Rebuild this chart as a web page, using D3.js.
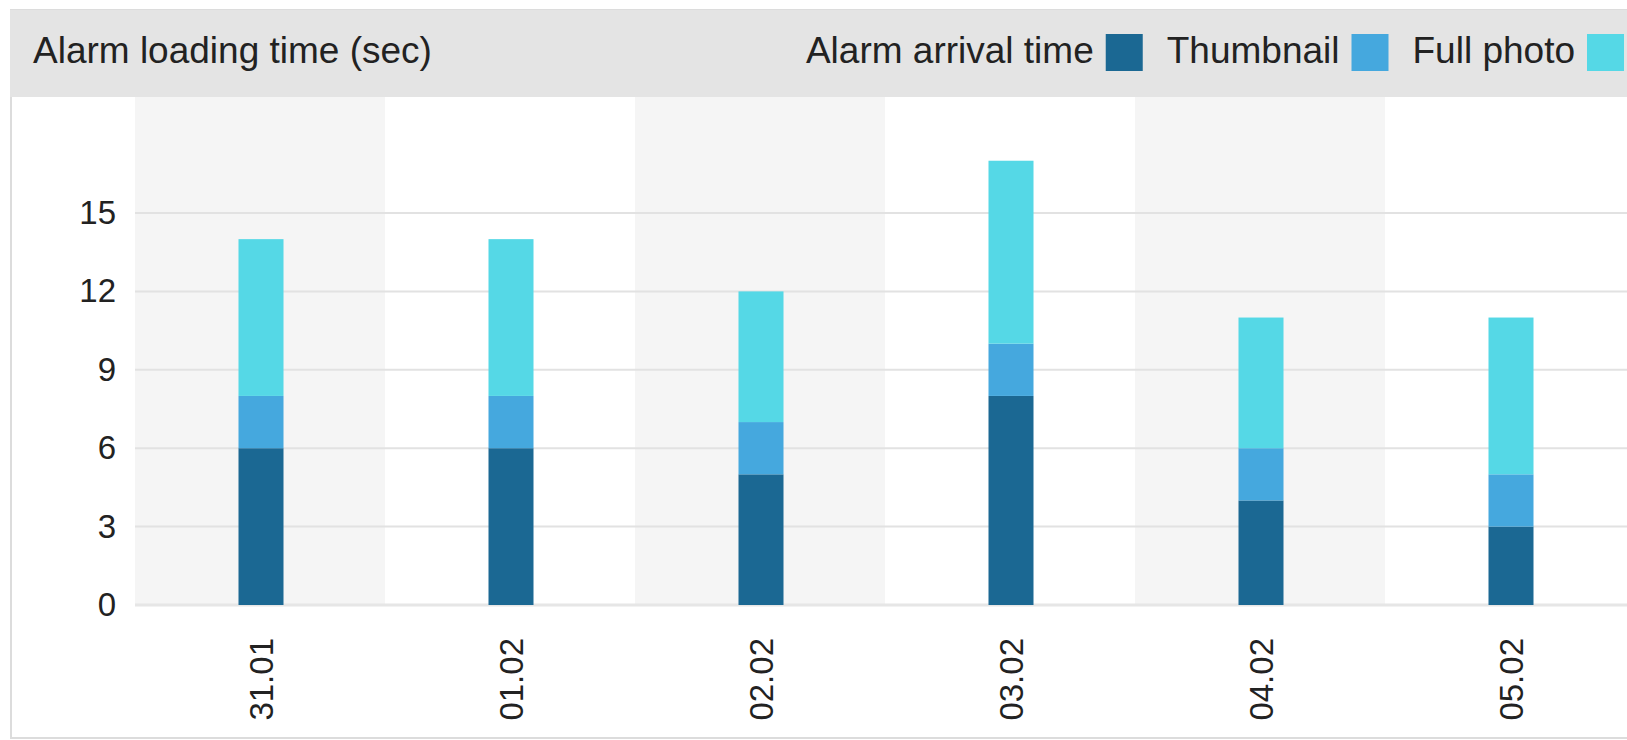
<!DOCTYPE html>
<html>
<head>
<meta charset="UTF-8">
<script src="https://d3js.org/d3.v7.min.js"></script>
<title>Alarm loading time</title>
<style>
  body { margin: 0; background: #fff; }
  text { font-family: "Liberation Sans", Arial, Helvetica, sans-serif; fill: #222; }
</style>
</head>
<body>
<div id="chart"></div>
<script>
// data
var dates = ["31.01", "01.02", "02.02", "03.02", "04.02", "05.02"];
var arrival = [6, 6, 5, 8, 4, 3];
var thumbnail = [2, 2, 2, 2, 2, 2];
var fullPhoto = [6, 6, 5, 7, 5, 6];
var yTicks = [0, 3, 6, 9, 12, 15];
var seriesNames = ["Alarm arrival time", "Thumbnail", "Full photo"];
var colors = ["#1b6893", "#45a8de", "#55d8e6"];

var width = 1627, height = 740;
var headerTop = 10, headerBottom = 97;
var plotLeft = 135, baseY = 605;
var bandW = 250, barW = 45;

var svg = d3.select("#chart").append("svg")
  .attr("width", width)
  .attr("height", height);

// panel + header
svg.append("rect")
  .attr("x", 11).attr("y", headerTop)
  .attr("width", width).attr("height", height - headerTop - 2)
  .attr("fill", "#fff").attr("stroke", "#dcdcdc").attr("stroke-width", 2);
svg.append("rect")
  .attr("x", 10).attr("y", headerTop)
  .attr("width", width).attr("height", headerBottom - headerTop)
  .attr("fill", "#e4e4e4");

svg.append("text")
  .attr("x", 33).attr("y", 63)
  .attr("font-size", 37)
  .text("Alarm loading time (sec)");

// scales
var x = d3.scaleBand()
  .domain(dates)
  .range([plotLeft, plotLeft + bandW * dates.length])
  .padding(0);

var y = d3.scaleLinear()
  .domain([0, 15])
  .range([baseY, 213]);

// stripes
svg.append("g").selectAll("rect")
  .data(dates)
  .enter().append("rect")
  .attr("x", function(d) { return x(d); })
  .attr("y", headerBottom)
  .attr("width", x.bandwidth())
  .attr("height", baseY - headerBottom)
  .attr("fill", function(d, i) { return i % 2 === 0 ? "#f5f5f5" : "#fff"; });

// grid
svg.append("g").selectAll("line")
  .data(yTicks)
  .enter().append("line")
  .attr("x1", plotLeft).attr("x2", width)
  .attr("y1", function(d) { return y(d); })
  .attr("y2", function(d) { return y(d); })
  .attr("stroke", function(d) { return d === 0 ? "#e6e6e6" : "#e2e2e2"; })
  .attr("stroke-width", function(d) { return d === 0 ? 3 : 2; });

// y axis labels
var yAxis = d3.axisLeft(y).tickValues(yTicks).tickSize(0).tickPadding(0);
svg.append("g")
  .attr("transform", "translate(116,0)")
  .call(yAxis)
  .call(function(g) { g.select(".domain").remove(); })
  .selectAll("text")
  .attr("font-size", 33)
  .attr("fill", "#222")
  .attr("font-family", "Liberation Sans, Arial, sans-serif");

// stacked bars
var rows = dates.map(function(d, i) {
  return { date: d, a: arrival[i], t: thumbnail[i], f: fullPhoto[i] };
});
var stack = d3.stack().keys(["a", "t", "f"]);
var layers = stack(rows);

svg.append("g").selectAll("g")
  .data(layers)
  .enter().append("g")
  .attr("fill", function(d, i) { return colors[i]; })
  .selectAll("rect")
  .data(function(d) { return d; })
  .enter().append("rect")
  .attr("x", function(d) { return x(d.data.date) + (x.bandwidth() - barW) / 2 + 1; })
  .attr("y", function(d) { return y(d[1]); })
  .attr("width", barW)
  .attr("height", function(d) { return y(d[0]) - y(d[1]); });

// x labels, rotated
svg.append("g").selectAll("text")
  .data(dates)
  .enter().append("text")
  .attr("transform", function(d) {
    return "translate(" + (x(d) + x.bandwidth() / 2 + 1) + ",638) rotate(-90)";
  })
  .attr("text-anchor", "end")
  .attr("dy", "0.35em")
  .attr("font-size", 33)
  .text(function(d) { return d; });

// legend, laid out from the right
var legend = svg.append("g");
var right = 1624;
for (var i = seriesNames.length - 1; i >= 0; i--) {
  legend.append("rect")
    .attr("x", right - 37).attr("y", 34)
    .attr("width", 37).attr("height", 37)
    .attr("fill", colors[i]);
  var t = legend.append("text")
    .attr("x", right - 37 - 12).attr("y", 63)
    .attr("text-anchor", "end")
    .attr("font-size", 37)
    .text(seriesNames[i]);
  var w = t.node().getComputedTextLength();
  right = right - 37 - 12 - w - 24;
}
</script>
</body>
</html>
